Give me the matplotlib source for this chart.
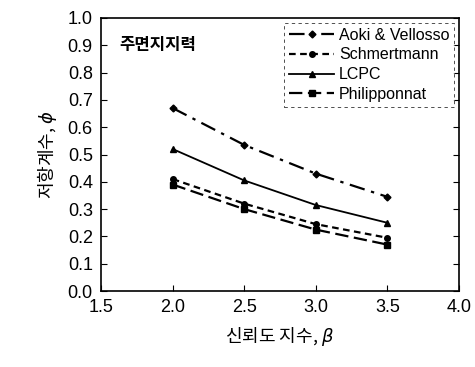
import matplotlib
matplotlib.use("Agg")
import matplotlib.pyplot as plt

plt.rcParams['font.family'] = ['Liberation Sans', 'Noto Sans CJK KR', 'DejaVu Sans']

beta = [2.0, 2.5, 3.0, 3.5]
aoki = [0.67, 0.535, 0.43, 0.345]
schmertmann = [0.41, 0.32, 0.245, 0.195]
lcpc = [0.52, 0.405, 0.315, 0.25]
philipponnat = [0.39, 0.30, 0.225, 0.17]

fig = plt.figure(figsize=(4.75, 3.67), dpi=100)
ax = fig.add_axes([0.213, 0.207, 0.753, 0.744])

ax.plot(beta, aoki, color='black', linestyle=(0, (7, 3, 1.5, 3)), lw=1.6,
        marker='D', ms=3.5, label='Aoki & Vellosso')
ax.plot(beta, schmertmann, color='black', linestyle=(0, (3, 2)), lw=1.6,
        marker='o', ms=4, label='Schmertmann')
ax.plot(beta, lcpc, color='black', linestyle='-', lw=1.3,
        marker='^', ms=4.5, label='LCPC')
ax.plot(beta, philipponnat, color='black', linestyle=(0, (6, 2.5)), lw=1.6,
        marker='s', ms=4.5, label='Philipponnat')

ax.set_xlim(1.5, 4.0)
ax.set_ylim(0.0, 1.0)
ax.set_xticks([1.5, 2.0, 2.5, 3.0, 3.5, 4.0])
ax.set_yticks([i / 10 for i in range(11)])
ax.xaxis.set_major_formatter(matplotlib.ticker.FormatStrFormatter('%.1f'))
ax.yaxis.set_major_formatter(matplotlib.ticker.FormatStrFormatter('%.1f'))
ax.tick_params(direction='in', labelsize=13, length=4, right=True, pad=6)

for s in ax.spines.values():
    s.set_linewidth(1.2)

ax.set_xlabel('신뢰도 지수, $\\beta$', fontsize=13, labelpad=6,
              family=['Noto Sans CJK KR', 'DejaVu Sans'])
ax.set_ylabel('저항계수, $\\phi$', fontsize=13, labelpad=6,
              family=['Noto Sans CJK KR', 'DejaVu Sans'])

ax.text(0.05, 0.90, '주면지지력', transform=ax.transAxes, fontsize=12,
        fontweight='bold', va='center',
        family=['Noto Sans CJK KR', 'DejaVu Sans'])

leg = ax.legend(loc='upper right', fontsize=11.5, handlelength=2.8,
                frameon=True, fancybox=False, borderpad=0.3,
                labelspacing=0.3, handletextpad=0.3, borderaxespad=0.3)
leg.get_frame().set_edgecolor('black')
leg.get_frame().set_linestyle((0, (4, 4)))
leg.get_frame().set_linewidth(0.6)

fig.savefig('out.png', dpi=100)
